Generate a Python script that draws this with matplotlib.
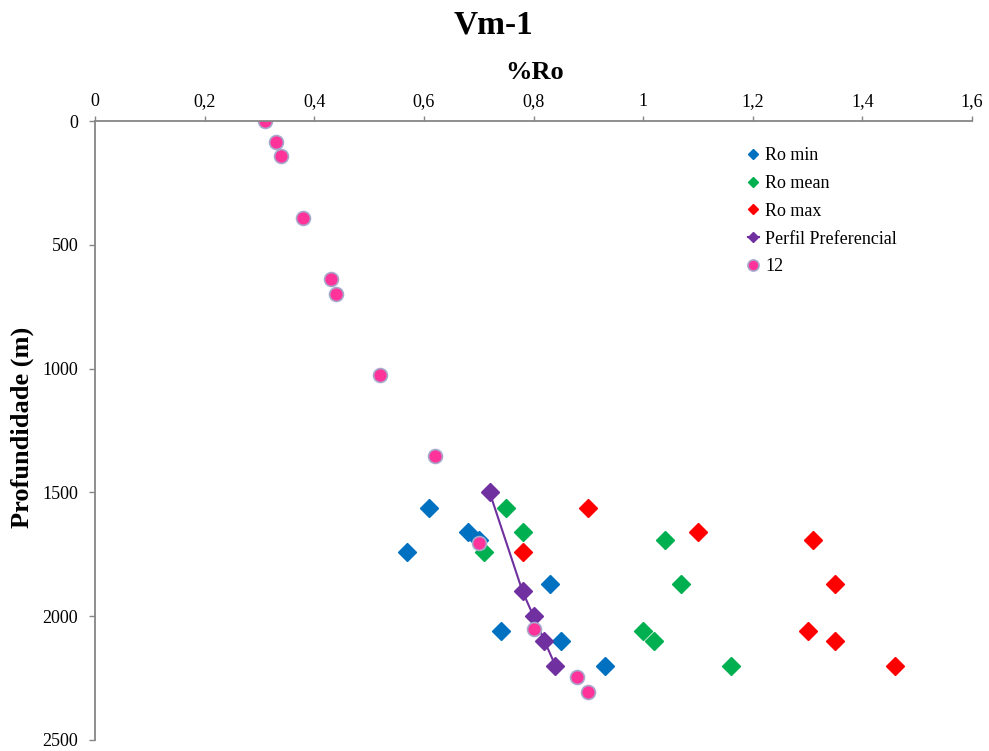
import matplotlib
matplotlib.use("Agg")
import matplotlib.pyplot as plt
from matplotlib.ticker import FuncFormatter

plt.rcParams['font.family'] = ['Liberation Serif', 'DejaVu Serif']

# Data
depth_samples = [1563, 1660, 1692, 1741, 1870, 2060, 2100, 2201]
ro_min = [0.61, 0.68, 0.70, 0.57, 0.83, 0.74, 0.85, 0.93]
ro_mean = [0.75, 0.78, 1.04, 0.71, 1.07, 1.00, 1.02, 1.16]
ro_max = [0.90, 1.10, 1.31, 0.78, 1.35, 1.30, 1.35, 1.46]

perfil_ro = [0.72, 0.78, 0.80, 0.82, 0.84]
perfil_depth = [1500, 1900, 2000, 2100, 2200]

s12_ro = [0.31, 0.33, 0.34, 0.38, 0.43, 0.44, 0.52, 0.62, 0.70, 0.80, 0.88, 0.90]
s12_depth = [0, 85, 140, 390, 640, 700, 1025, 1355, 1705, 2050, 2245, 2305]

x_ticks = [0, 0.2, 0.4, 0.6, 0.8, 1.0, 1.2, 1.4, 1.6]
y_ticks = [0, 500, 1000, 1500, 2000, 2500]

fig = plt.figure(figsize=(9.89, 7.51), dpi=100)
ax = fig.add_axes([95/989, 1 - 740/751, (972-95)/989, (740-121)/751])

ms_d = 9.5
ax.plot(ro_min, depth_samples, linestyle='none', marker='D', ms=ms_d, color='#0070C0', label='Ro min')
ax.plot(ro_mean, depth_samples, linestyle='none', marker='D', ms=ms_d, color='#00B050', label='Ro mean')
ax.plot(ro_max, depth_samples, linestyle='none', marker='D', ms=ms_d, color='#FF0000', label='Ro max')
ax.plot(perfil_ro, perfil_depth, linestyle='-', lw=1.5, marker='D', ms=ms_d, color='#7030A0', label='Perfil Preferencial')
ax.plot(s12_ro, s12_depth, linestyle='none', marker='o', ms=10, markerfacecolor='#FF3399',
        markeredgecolor='#A8A8CC', markeredgewidth=1.2, label='12')

ax.set_xlim(0, 1.6)
ax.set_ylim(2500, 0)
ax.set_xticks(x_ticks)
ax.set_yticks(y_ticks)

fmt = FuncFormatter(lambda v, p: ('%g' % round(v, 2)).replace('.', ','))
ax.xaxis.set_major_formatter(fmt)
ax.xaxis.tick_top()
ax.tick_params(axis='both', labelsize=13, color='#868686', width=1, direction='out')
ax.tick_params(axis='x', pad=4.5, length=3.5)
ax.tick_params(axis='y', pad=8, length=4)

for s in ['right', 'bottom']:
    ax.spines[s].set_visible(False)
for s in ['left', 'top']:
    ax.spines[s].set_color('#868686')
    ax.spines[s].set_linewidth(1.3)

fig.text(494/989, 1 - 33/751, 'Vm-1', ha='center', va='baseline', fontsize=24, fontweight='bold')
fig.text(535/989, 1 - 79/751, '%Ro', ha='center', va='baseline', fontsize=19, fontweight='bold')
fig.text(22/989, 1 - 427/751, 'Profundidade (m)', ha='center', va='center', rotation=90,
         fontsize=19, fontweight='bold')

leg = ax.legend(loc='upper left', bbox_to_anchor=(748/989, 1 - 147/751), bbox_transform=fig.transFigure,
                frameon=False, fontsize=13, markerscale=0.55, handlelength=0.6, handletextpad=0.35,
                labelspacing=0.6, borderaxespad=0, borderpad=0)
leg.legend_handles[-1].set_markersize(8)

fig.savefig('out.png', dpi=100)
